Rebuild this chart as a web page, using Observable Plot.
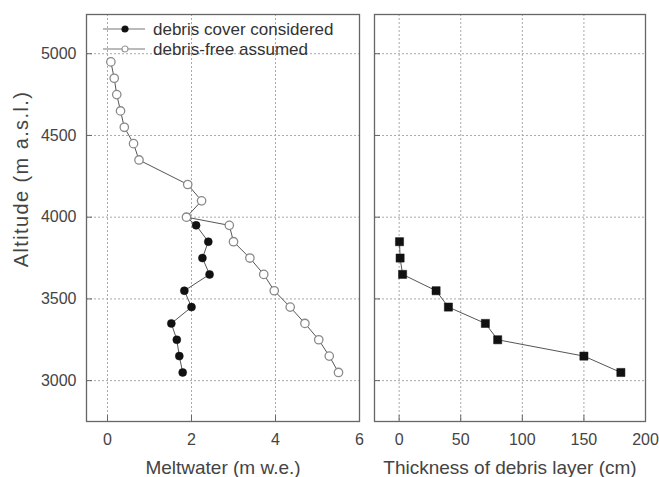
<!DOCTYPE html>
<html><head><meta charset="utf-8">
<script src="https://cdn.jsdelivr.net/npm/d3@7"></script>
<script src="https://cdn.jsdelivr.net/npm/@observablehq/plot@0.6"></script>
<style>
body{margin:0;background:#fff;}
#chart{position:relative;width:659px;height:477px;font-family:"Liberation Sans",Arial,sans-serif;overflow:hidden;}
#chart svg{position:absolute;top:0;}
</style></head><body><div id="chart"></div>
<script>
// Data
const altFree = [4950,4850,4750,4650,4550,4450,4350,4200,4100,4000,3950,3850,3750,3650,3550,3450,3350,3250,3150,3050];
const meltFree = [0.08,0.16,0.22,0.31,0.40,0.62,0.75,1.91,2.24,1.88,2.90,3.00,3.39,3.72,3.97,4.35,4.70,5.03,5.28,5.50];
const altDebris = [4000,3950,3850,3750,3650,3550,3450,3350,3250,3150,3050];
const meltDebris = [1.88,2.11,2.40,2.26,2.43,1.83,2.00,1.52,1.65,1.71,1.79];
const altThick = [3850,3750,3650,3550,3450,3350,3250,3150,3050];
const thickness = [0.3,0.8,2.8,30,40,70,80,150,180];
const yTicks = [3000,3500,4000,4500,5000];
const meltTicks = [0,2,4,6];
const thickTicks = [0,50,100,150,200];
const legendLabels = ["debris cover considered","debris-free assumed"];
const xLabels = ["Meltwater (m w.e.)","Thickness of debris layer (cm)"];
const yLabel = "Altitude (m a.s.l.)";

const free = altFree.map((a,i)=>({alt:a, v:meltFree[i]}));
const debris = altDebris.map((a,i)=>({alt:a, v:meltDebris[i]}));
const thick = altThick.map((a,i)=>({alt:a, v:thickness[i]}));

const H = 477, mTop = 14, mBottom = 56, plotH = H - mTop - mBottom;
const yDomain = [2750, 5240];
const frameColor = "#666", gridColor = "#aaa", lineColor = "#555", textColor = "#444";
const fmt = d => String(d);

function panel({width, marginLeft, marginRight, xDomain, xTicks, xLabel, showYLabels, marks}) {
  const plotW = width - marginLeft - marginRight;
  const m = [
    Plot.ruleX(xTicks, {stroke: gridColor, strokeDasharray: "2,2"}),
    Plot.ruleY(yTicks, {stroke: gridColor, strokeDasharray: "2,2"}),
    Plot.ruleX(xTicks, {stroke: frameColor, insetTop: plotH - 6}),
    Plot.ruleY(yTicks, {stroke: frameColor, insetRight: plotW - 6}),
    Plot.axisX(xTicks, {tickSize: 0, tickPadding: 12, fontSize: 16, fill: textColor, label: null, tickFormat: fmt}),
    Plot.text([xLabel], {text: d => d, frameAnchor: "bottom", dy: 46, fontSize: 19, fill: textColor, lineAnchor: "middle"}),
    ...marks,
    Plot.frame({stroke: frameColor, strokeWidth: 1.3})
  ];
  if (showYLabels) {
    m.push(Plot.axisY(yTicks, {tickSize: 0, tickPadding: 10, fontSize: 16, fill: textColor, label: null, tickFormat: fmt}));
    m.push(Plot.text([yLabel], {text: d => d, frameAnchor: "left", textAnchor: "middle", dx: -65, dy: -39, rotate: -90, fontSize: 20, fill: textColor, lineAnchor: "middle"}));
  }
  return Plot.plot({
    width, height: H, marginLeft, marginRight, marginTop: mTop, marginBottom: mBottom,
    style: {fontFamily: '"Liberation Sans", Arial, sans-serif', background: "transparent", color: textColor},
    x: {domain: xDomain, label: null},
    y: {domain: yDomain, label: null, axis: showYLabels ? undefined : null},
    marks: m
  });
}

const left = panel({
  width: 366, marginLeft: 86, marginRight: 7, xDomain: [-0.5, 6], xTicks: meltTicks,
  xLabel: xLabels[0], showYLabels: true,
  marks: [
    Plot.line(free, {x: "v", y: "alt", stroke: lineColor, strokeWidth: 1}),
    Plot.line(debris, {x: "v", y: "alt", stroke: lineColor, strokeWidth: 1}),
    Plot.dot(debris, {x: "v", y: "alt", r: 4, fill: "#111", stroke: "#111", strokeWidth: 0.5}),
    Plot.dot(free, {x: "v", y: "alt", r: 4.2, fill: "white", stroke: "#8a8a8a", strokeWidth: 1.3})
  ]
});
const right = panel({
  width: 293, marginLeft: 8, marginRight: 14, xDomain: [-20, 200], xTicks: thickTicks,
  xLabel: xLabels[1], showYLabels: false,
  marks: [
    Plot.line(thick, {x: "v", y: "alt", stroke: lineColor, strokeWidth: 1}),
    Plot.dot(thick, {x: "v", y: "alt", r: 4.6, symbol: "square", fill: "#111", stroke: "#111", strokeWidth: 0.5})
  ]
});
// widen the rotated y title a little, as in the reference
d3.select(left).selectAll("text").filter(function(){ return this.textContent === yLabel; }).attr("letter-spacing", "1.4px");

const chart = document.getElementById("chart");
left.style.left = "0px";
right.style.left = "366px";
chart.appendChild(left);
chart.appendChild(right);

// Legend overlay inside the left panel
const leg = d3.select(chart).append("svg").attr("width", 659).attr("height", 477).style("left", "0px").style("pointer-events", "none");
const rows = [
  {label: legendLabels[0], y: 29, fill: "#111", stroke: "#111", r: 3},
  {label: legendLabels[1], y: 49, fill: "white", stroke: "#999", r: 3}
];
const g = leg.selectAll("g").data(rows).join("g").attr("transform", d => `translate(0,${d.y})`);
g.append("line").attr("x1", 103).attr("x2", 145).attr("stroke", "#777").attr("stroke-width", 1.2);
g.append("circle").attr("cx", 125).attr("r", d => d.r).attr("fill", d => d.fill).attr("stroke", d => d.stroke).attr("stroke-width", 1.2);
g.append("text").attr("x", 153).attr("dy", "0.35em").text(d => d.label)
  .attr("font-family", '"Liberation Sans", Arial, sans-serif').attr("font-size", 17).attr("fill", "#333");
</script></body></html>
